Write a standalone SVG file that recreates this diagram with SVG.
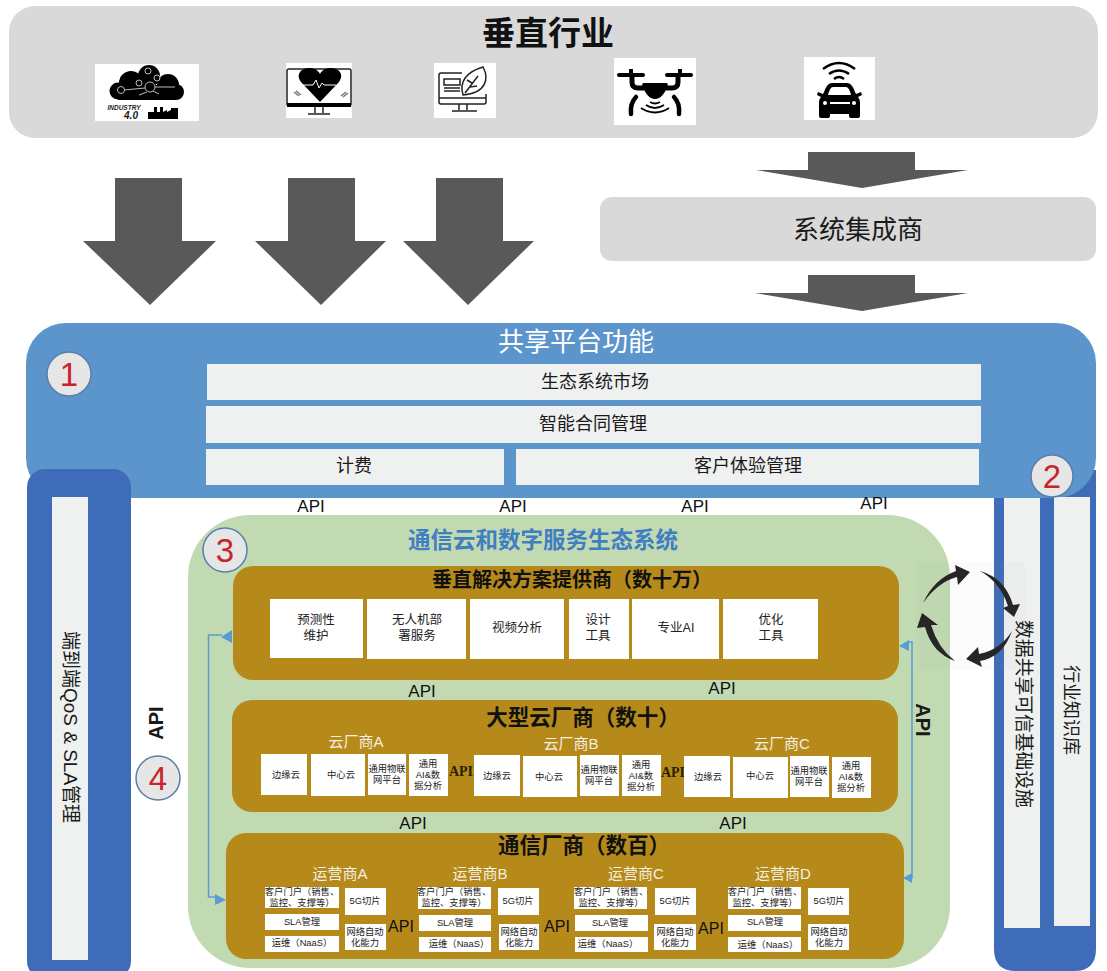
<svg xmlns="http://www.w3.org/2000/svg" width="1107" height="971" viewBox="0 0 1107 971">
<style>
text{font-family:"Liberation Sans","Noto Sans CJK SC",sans-serif;text-anchor:middle;dominant-baseline:central;fill:#1a1a1a}
.b{fill:#5b95cc}.d{fill:#3f6cb8}.l{fill:#eff0f0}.g{fill:#b68a1a}.w{fill:#fff}.k{fill:#000}.ar{fill:#595959}
.row{font-size:18px}.api{font-size:17px;fill:#111}.t{font-size:9.3px;fill:#222}.t1{font-size:12.500px;fill:#222}
.h{font-weight:700;fill:#111}.s{font-size:15px;fill:#f4efe0}.m{font-family:"Liberation Serif",serif;font-weight:700;font-size:14px;fill:#2a2000}.p{font-size:16px;fill:#111}
.n{fill:#e6e6e6;stroke:#5a7fa8;stroke-width:1.500}.nt{font-size:33px;fill:#c8252b}
.ln{fill:none;stroke:#5b9bd5;stroke-width:1.500}.ah{fill:#5b9bd5}.ch{fill:#262626}
.ic{fill:none;stroke:#222;stroke-width:1.500}
</style>
<g id="vertical-industries">
<rect x="9" y="6" width="1089" height="132" rx="26" fill="#d9d9d9"/>
<text x="548" y="33" font-size="33" class="h">垂直行业</text>
</g>
<g id="icon-industry">
<rect x="95" y="64" width="104" height="57" class="w"/>
<g class="k"><circle cx="149" cy="76" r="11"/><circle cx="131" cy="83" r="12"/><circle cx="118" cy="91" r="8.500"/><circle cx="168" cy="85" r="11"/><circle cx="176" cy="92" r="8"/><rect x="118" y="85" width="58" height="15"/></g>
<g fill="none" stroke="#bbb" stroke-width="1"><circle cx="150" cy="87" r="5"/><circle cx="139" cy="83" r="3"/><circle cx="121" cy="90" r="3.500"/><circle cx="148" cy="71" r="3"/><circle cx="157" cy="78" r="3"/><path d="M155 87h20M145 88l-21 2M147 92l-8 3M153 91l6 3"/></g>
<text x="124" y="107" font-size="6.500" font-weight="700" font-style="italic" fill="#333">INDUSTRY</text>
<text x="131" y="115" font-size="10" font-weight="700" font-style="italic" fill="#333">4.0</text>
<path class="k" d="M148 119v-7h6v-5h3v5h3v-5h3v5l4-2v2l4-2v-2h7v11z"/>
</g>
<g id="icon-health">
<rect x="286" y="63" width="66" height="55" class="w"/>
<rect x="287" y="69" width="64" height="37" rx="2" fill="none" stroke="#222" stroke-width="1.500"/>
<rect x="287" y="103" width="64" height="4" class="k"/>
<path class="k" d="M320 102l-19-20c-6-8 1-14 8-14 5 0 9 2 11 6 2-4 6-6 11-6 7 0 14 6 8 14z"/>
<path d="M301 85h12l3-5 3 8 3-5 2 2h12" fill="none" stroke="#fff" stroke-width="1"/>
<path d="M294 92l5 4M296 91l5 4M341 96l5-4M343 97l5-4" stroke="#777" stroke-width="1.500"/>
<path class="ic" d="M315 107v6M323 107v6M308 114h22"/>
</g>
<g id="icon-agri">
<rect x="434" y="63" width="62" height="55" class="w"/>
<path class="ic" d="M462 73h-21q-2 0-2 2v27q0 2 2 2h43q2 0 2-2v-8M439 98h47M459 104v6M467 104v6M452 111h25"/>
<path class="ic" d="M444 79h16v6h-16zM444 88h16M444 91h16"/>
<path class="ic" d="M463 95c-4-13 3-23 20-28 6 11 4 26-20 28zM465 93l13-17M470 87l7-1M472 83l-5-3"/>
</g>
<g id="icon-drone">
<rect x="614" y="58" width="82" height="67" class="w"/>
<rect x="617" y="73" width="28" height="4" rx="2" class="k"/><rect x="665" y="73" width="28" height="4" rx="2" class="k"/>
<rect x="629" y="69" width="4" height="5" class="k"/><rect x="678" y="69" width="4" height="5" class="k"/>
<path d="M632 77v5q0 6 6 6h6M678 77v5q0 6-6 6h-6" fill="none" stroke="#000" stroke-width="5"/>
<path class="k" d="M644 83h22q3 0 1 5-4 8-8 10-4 2-8 0-4-2-8-10-2-5 1-5z"/>
<path d="M636 97q-6 6-5 17M674 97q6 6 5 17" fill="none" stroke="#000" stroke-width="4.500" stroke-linecap="round"/>
<path d="M650 102q5 3 10 0M646 105q9 6 18 0M641 108q14 9 28 0" fill="none" stroke="#000" stroke-width="1.800"/>
</g>
<g id="icon-car">
<rect x="804" y="57" width="71" height="63" class="w"/>
<path d="M823 69q16-12 32 0M829 74q10-7 20 0M834 79q5-4 10 0" fill="none" stroke="#000" stroke-width="2.500"/>
<path class="k" d="M832 83h15q5 0 8 9l1 2 5-2 1 3-4 2q2 2 2 5v14q0 2-2 2h-7q-2 0-2-2v-2h-19v2q0 2-2 2h-7q-2 0-2-2v-14q0-3 2-5l-4-2 1-3 5 2 1-2q3-9 8-9z"/>
<path class="w" d="M833 87h13q3 0 5 8h-23q2-8 5-8z"/>
<circle cx="825" cy="103" r="2" class="w"/><circle cx="854" cy="103" r="2" class="w"/><rect x="830" y="102" width="20" height="2" class="w"/>
</g>
<g id="connectors-big">
<path class="ar" d="M115 178h67v63h34l-66 64-67-64h32z"/>
<path class="ar" d="M288 178h67v63h31l-65 64-66-64h33z"/>
<path class="ar" d="M436 178h67v63h31l-66 64-65-64h33z"/>
<path class="ar" d="M808 152h107v18h53l-106 18-106-18h52z"/>
<path class="ar" d="M808 275h107v18h53l-106 18-107-18h53z"/>
</g>
<g id="integrator">
<rect x="600" y="197" width="496" height="64" rx="12" fill="#d9d9d9"/>
<text x="858" y="230" font-size="26">系统集成商</text>
</g>
<g id="right-pillars">
<path class="d" d="M994 470h102v479q0 22-22 22h-58q-22 0-22-22z"/>
</g>
<g id="platform">
<rect x="26" y="323" width="1070" height="175" rx="40" class="b"/>
<text x="576" y="342" font-size="26" style="fill:#fff">共享平台功能</text>
<rect x="207" y="364" width="774" height="36" class="l"/><text x="595" y="382" class="row">生态系统市场</text>
<rect x="206" y="406" width="775" height="37" class="l"/><text x="593" y="424" class="row">智能合同管理</text>
<rect x="206" y="449" width="298" height="36" class="l"/><text x="354" y="466" class="row">计费</text>
<rect x="516" y="449" width="463" height="36" class="l"/><text x="748" y="466" class="row">客户体验管理</text>
</g>
<g id="left-pillar">
<rect x="27" y="469" width="104" height="510" rx="18" class="d"/>
<rect x="52" y="497" width="36" height="463" class="l"/>
<text transform="translate(70 727) rotate(90)" font-size="19">端到端QoS &amp; SLA管理</text>
</g>
<g id="pillar-trust">
<rect x="1004" y="498" width="36" height="430" class="l"/>
<rect x="1054" y="497" width="36" height="429" class="l"/>
<text transform="translate(1071 710) rotate(90)" font-size="18">行业知识库</text>
</g>
<g id="ecosystem">
<rect x="188" y="515" width="762" height="453" rx="62" fill="#c2dab2"/>
<text x="543" y="540" font-size="22.500" font-weight="700" style="fill:#3f7fc1">通信云和数字服务生态系统</text>
</g>
<g id="api-labels">
<text x="311" y="506" class="api">API</text><text x="513" y="506" class="api">API</text><text x="695" y="506" class="api">API</text><text x="874" y="503" class="api">API</text>
<text x="422" y="691" class="api">API</text><text x="722" y="688" class="api">API</text><text x="413" y="823" class="api">API</text><text x="733" y="823" class="api">API</text>
<text transform="translate(156 723) rotate(-90)" font-size="20" font-weight="700">API</text>
<text transform="translate(923 720) rotate(90)" font-size="20" font-weight="700">API</text>
</g>
<g id="solution-providers">
<rect x="233" y="566" width="666" height="114" rx="20" class="g"/>
<text x="572" y="580" font-size="20" class="h">垂直解决方案提供商（数十万）</text>
<rect x="270" y="599" width="93" height="59" class="w"/><text x="316" y="628" class="t1"><tspan x="316" dy="-8">预测性</tspan><tspan x="316" dy="16">维护</tspan></text>
<rect x="367" y="599" width="99" height="60" class="w"/><text x="417" y="628" class="t1"><tspan x="417" dy="-8">无人机部</tspan><tspan x="417" dy="16">署服务</tspan></text>
<rect x="470" y="599" width="94" height="60" class="w"/><text x="517" y="628" class="t1">视频分析</text>
<rect x="569" y="599" width="60" height="60" class="w"/><text x="598" y="628" class="t1"><tspan x="598" dy="-8">设计</tspan><tspan x="598" dy="16">工具</tspan></text>
<rect x="632" y="599" width="87" height="60" class="w"/><text x="676" y="628" class="t1">专业AI</text>
<rect x="723" y="599" width="95" height="60" class="w"/><text x="771" y="628" class="t1"><tspan x="771" dy="-8">优化</tspan><tspan x="771" dy="16">工具</tspan></text>
</g>
<g id="cloud-vendors">
<rect x="232" y="700" width="666" height="112" rx="20" class="g"/>
<text x="583" y="718" font-size="21.500" class="h">大型云厂商（数十）</text>
<text x="356" y="741" class="s">云厂商A</text><text x="571" y="743" class="s">云厂商B</text><text x="782" y="743" class="s">云厂商C</text>
<rect x="261" y="754" width="46" height="41" class="w"/><text x="286" y="775" class="t">边缘云</text>
<rect x="311" y="754" width="54" height="42" class="w"/><text x="341" y="775" class="t">中心云</text>
<rect x="368" y="754" width="38" height="41" class="w"/><text x="387" y="774" class="t"><tspan x="387" dy="-5.500">通用物联</tspan><tspan x="387" dy="11">网平台</tspan></text>
<rect x="409" y="754" width="39" height="42" class="w"/><text x="428" y="775" class="t"><tspan x="428" dy="-11">通用</tspan><tspan x="428" dy="11">AI&amp;数</tspan><tspan x="428" dy="11">据分析</tspan></text>
<text x="461" y="771" class="m">API</text>
<rect x="474" y="755" width="46" height="41" class="w"/><text x="497" y="776" class="t">边缘云</text>
<rect x="523" y="756" width="54" height="41" class="w"/><text x="549" y="777" class="t">中心云</text>
<rect x="580" y="755" width="39" height="41" class="w"/><text x="599" y="775" class="t"><tspan x="599" dy="-5.500">通用物联</tspan><tspan x="599" dy="11">网平台</tspan></text>
<rect x="622" y="755" width="39" height="41" class="w"/><text x="641" y="776" class="t"><tspan x="641" dy="-11">通用</tspan><tspan x="641" dy="11">AI&amp;数</tspan><tspan x="641" dy="11">据分析</tspan></text>
<text x="673" y="772" class="m">API</text>
<rect x="684" y="756" width="46" height="41" class="w"/><text x="708" y="777" class="t">边缘云</text>
<rect x="733" y="757" width="55" height="41" class="w"/><text x="760" y="776" class="t">中心云</text>
<rect x="790" y="756" width="39" height="41" class="w"/><text x="809" y="776" class="t"><tspan x="809" dy="-5.500">通用物联</tspan><tspan x="809" dy="11">网平台</tspan></text>
<rect x="832" y="757" width="39" height="41" class="w"/><text x="851" y="777" class="t"><tspan x="851" dy="-11">通用</tspan><tspan x="851" dy="11">AI&amp;数</tspan><tspan x="851" dy="11">据分析</tspan></text>
</g>
<g id="telecom-vendors">
<rect x="226" y="833" width="678" height="126" rx="20" class="g"/>
<text x="584" y="846" font-size="21.500" class="h">通信厂商（数百）</text>
<text x="340" y="873" class="s">运营商A</text><text x="480" y="873" class="s">运营商B</text><text x="636" y="873" class="s">运营商C</text><text x="783" y="873" class="s">运营商D</text>
<rect x="265" y="887" width="74" height="21" class="w"/><text x="302" y="897" class="t"><tspan x="302" dy="-5">客户门户（销售、</tspan><tspan x="302" dy="11">监控、支撑等）</tspan></text>
<rect x="265" y="914" width="74" height="16" class="w"/><text x="302" y="922" class="t">SLA管理</text>
<rect x="265" y="936" width="74" height="16" class="w"/><text x="302" y="943" class="t">运维（NaaS）</text>
<rect x="345" y="888" width="41" height="27" class="w"/><text x="365" y="901" class="t">5G切片</text>
<rect x="345" y="924" width="41" height="26" class="w"/><text x="365" y="937" class="t"><tspan x="365" dy="-5.500">网络自动</tspan><tspan x="365" dy="11">化能力</tspan></text>
<text x="401" y="926" class="p">API</text>
<rect x="418" y="887" width="73" height="22" class="w"/><text x="454" y="897" class="t"><tspan x="454" dy="-5">客户门户（销售、</tspan><tspan x="454" dy="11">监控、支撑等）</tspan></text>
<rect x="419" y="915" width="72" height="16" class="w"/><text x="455" y="923" class="t">SLA管理</text>
<rect x="419" y="937" width="72" height="15" class="w"/><text x="459" y="944" class="t">运维（NaaS）</text>
<rect x="498" y="888" width="41" height="27" class="w"/><text x="518" y="901" class="t">5G切片</text>
<rect x="499" y="924" width="40" height="26" class="w"/><text x="519" y="937" class="t"><tspan x="519" dy="-5.500">网络自动</tspan><tspan x="519" dy="11">化能力</tspan></text>
<text x="557" y="926" class="p">API</text>
<rect x="574" y="887" width="73" height="22" class="w"/><text x="611" y="897" class="t"><tspan x="611" dy="-5">客户门户（销售、</tspan><tspan x="611" dy="11">监控、支撑等）</tspan></text>
<rect x="575" y="915" width="73" height="16" class="w"/><text x="610" y="923" class="t">SLA管理</text>
<rect x="575" y="937" width="73" height="15" class="w"/><text x="608" y="944" class="t">运维（NaaS）</text>
<rect x="655" y="888" width="41" height="27" class="w"/><text x="675" y="901" class="t">5G切片</text>
<rect x="654" y="924" width="42" height="26" class="w"/><text x="675" y="937" class="t"><tspan x="675" dy="-5.500">网络自动</tspan><tspan x="675" dy="11">化能力</tspan></text>
<text x="711" y="928" class="p">API</text>
<rect x="728" y="887" width="73" height="22" class="w"/><text x="765" y="897" class="t"><tspan x="765" dy="-5">客户门户（销售、</tspan><tspan x="765" dy="11">监控、支撑等）</tspan></text>
<rect x="728" y="915" width="73" height="16" class="w"/><text x="765" y="922" class="t">SLA管理</text>
<rect x="728" y="937" width="73" height="15" class="w"/><text x="768" y="945" class="t">运维（NaaS）</text>
<rect x="808" y="888" width="41" height="27" class="w"/><text x="829" y="901" class="t">5G切片</text>
<rect x="808" y="924" width="41" height="26" class="w"/><text x="829" y="937" class="t"><tspan x="829" dy="-5.500">网络自动</tspan><tspan x="829" dy="11">化能力</tspan></text>
</g>
<g id="connectors">
<path class="ln" d="M222 635h-13.500v262h8"/>
<path class="ah" d="M232 630v13l-11-6zM226 900l-11-6v11z"/>
<path class="ln" d="M908 642h4v236h-7"/>
<path class="ah" d="M899 646l10-6v11zM903 878l9-5v10z"/>
</g>
<g id="cycle">
<rect x="916" y="562" width="109" height="108" fill="#888" opacity=".03"/>
<path class="ch" d="M923 603Q934 579 956 571L955 565 970 572 958 585 957 577Q938 582 923 603z"/>
<path class="ch" d="M980 571Q1005 578 1013 605L1020 604 1014 617 1003 608 1008 606Q1000 582 980 571z"/>
<path class="ch" d="M1012 631Q1003 657 980 661L982 667 966 659 978 647 979 654Q1000 650 1012 631z"/>
<path class="ch" d="M955 661Q932 653 925 627L917 628 922 613 938 625 931 625Q938 648 955 661z"/>
</g>
<text transform="translate(1023 714) rotate(90)" font-size="18.800" id="trust-label">数据共享可信基础设施</text>
<g id="badge-1"><circle cx="69" cy="374" r="22" class="n"/><text x="69" y="374" class="nt">1</text></g>
<g id="badge-2"><circle cx="1052" cy="476" r="21" class="n"/><text x="1052" y="476" class="nt">2</text></g>
<g id="badge-3"><circle cx="225" cy="550" r="22" class="n"/><text x="225" y="550" class="nt">3</text></g>
<g id="badge-4"><circle cx="158" cy="778" r="22" class="n"/><text x="158" y="778" class="nt">4</text></g>
</svg>
